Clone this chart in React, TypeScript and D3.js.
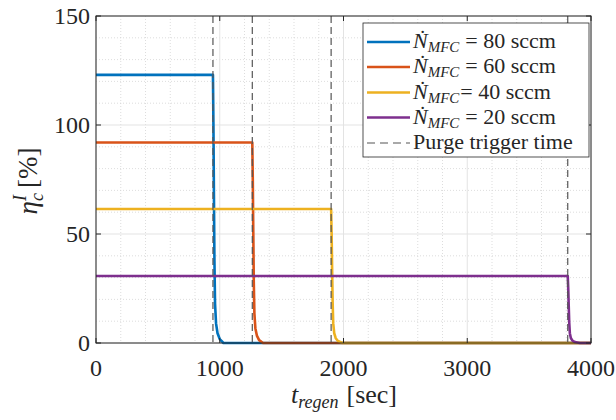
import React from 'react';
import * as d3 from 'd3';

const xTicks = [0, 1000, 2000, 3000, 4000];
const yTicks = [0, 50, 100, 150];
const xMinorTicks = [200, 400, 600, 800, 1200, 1400, 1600, 1800, 2200, 2400, 2600, 2800, 3200, 3400, 3600, 3800];
const yMinorTicks = [10, 20, 30, 40, 60, 70, 80, 90, 110, 120, 130, 140];

const seriesLabels = ['= 80 sccm', '= 60 sccm', '= 40 sccm', '= 20 sccm'];
const seriesColors = ['#0072BD', '#D95319', '#EDB120', '#7E2F8E'];
const purgeTimes = [945, 1263, 1900, 3812];

// series: time [sec], efficiency [%]
const t80 = [0, 945, 949, 953, 957, 962, 970, 982, 1000, 1030, 4000];
const v80 = [123, 123, 100, 68, 38, 18, 9, 4.5, 1.8, 0, 0];
const t60 = [0, 1263, 1267, 1271, 1275, 1280, 1288, 1300, 1318, 1350, 4000];
const v60 = [92, 92, 75, 51, 28, 13.5, 6.7, 3.4, 1.3, 0, 0];
const t40 = [0, 1900, 1904, 1908, 1912, 1917, 1925, 1937, 1955, 1990, 4000];
const v40 = [61.5, 61.5, 50, 34, 19, 9, 4.5, 2.2, 0.9, 0, 0];
const t20 = [0, 3812, 3816, 3820, 3824, 3829, 3837, 3850, 3870, 3910, 4000];
const v20 = [30.75, 30.75, 25, 17, 9.5, 4.5, 2.3, 1.1, 0.45, 0, 0];

const seriesT = [t80, t60, t40, t20];
const seriesV = [v80, v60, v40, v20];

const W = 616, H = 420;
const L = 96, R = 591, T = 16, B = 343;
const FONT = '"Liberation Serif", "Times New Roman", serif';
const AX = '#262626';

export default function App() {
  const x = d3.scaleLinear().domain([0, 4000]).range([L, R]);
  const y = d3.scaleLinear().domain([0, 150]).range([B, T]);
  const line = d3.line<[number, number]>().x(d => x(d[0])).y(d => y(d[1]));

  const legX = 363, legY = 23, legW = 226, legH = 134;
  const rowY = [42, 67, 92.5, 117.5, 143];

  return (
    <svg width={W} height={H} style={{ position: 'absolute', left: 0, top: 0, background: '#fff' }} fontFamily={FONT}>
      <rect x={0} y={0} width={W} height={H} fill="#fff" />
      {/* minor grid */}
      {xMinorTicks.map(t => (
        <line key={'xm' + t} x1={x(t)} x2={x(t)} y1={T} y2={B} stroke="#d4d4d4" strokeWidth={0.8} strokeDasharray="1,2" />
      ))}
      {yMinorTicks.map(t => (
        <line key={'ym' + t} x1={L} x2={R} y1={y(t)} y2={y(t)} stroke="#d4d4d4" strokeWidth={0.8} strokeDasharray="1,2" />
      ))}
      {/* major grid */}
      {xTicks.map(t => (
        <line key={'xg' + t} x1={x(t)} x2={x(t)} y1={T} y2={B} stroke="#e3e3e3" strokeWidth={1} />
      ))}
      {yTicks.map(t => (
        <line key={'yg' + t} x1={L} x2={R} y1={y(t)} y2={y(t)} stroke="#e3e3e3" strokeWidth={1} />
      ))}
      {/* series */}
      {seriesT.map((ts, i) => (
        <path key={'s' + i} d={line(ts.map((t, j) => [t, seriesV[i][j]] as [number, number])) || ''}
          fill="none" stroke={seriesColors[i]} strokeWidth={2.6} strokeLinejoin="round" />
      ))}
      {/* purge trigger lines */}
      {purgeTimes.map((t, i) => (
        <line key={'p' + i} x1={x(t)} x2={x(t)} y1={T} y2={B} stroke="#555" strokeWidth={1.2} strokeDasharray="7,4" />
      ))}
      {/* axes box */}
      <rect x={L} y={T} width={R - L} height={B - T} fill="none" stroke={AX} strokeWidth={1} />
      {xTicks.map(t => (
        <g key={'xt' + t}>
          <line x1={x(t)} x2={x(t)} y1={B} y2={B - 5} stroke={AX} />
          <line x1={x(t)} x2={x(t)} y1={T} y2={T + 5} stroke={AX} />
          <text x={x(t)} y={376} textAnchor="middle" fontSize={24} fill={AX}>{t}</text>
        </g>
      ))}
      {yTicks.map(t => (
        <g key={'yt' + t}>
          <line x1={L} x2={L + 5} y1={y(t)} y2={y(t)} stroke={AX} />
          <line x1={R} x2={R - 5} y1={y(t)} y2={y(t)} stroke={AX} />
          <text x={L - 6} y={y(t) + 8} textAnchor="end" fontSize={24} fill={AX}>{t}</text>
        </g>
      ))}
      {/* axis labels */}
      <text x={344} y={403} textAnchor="middle" fontSize={26} fill={AX}>
        <tspan fontStyle="italic">t</tspan>
        <tspan fontStyle="italic" fontSize={18} dy={5}>regen</tspan>
        <tspan dy={-5} dx={8}>[sec]</tspan>
      </text>
      <text transform="translate(37,181) rotate(-90)" textAnchor="middle" fontSize={27} fill={AX}>
        <tspan fontStyle="italic">η</tspan>
        <tspan fontStyle="italic" fontSize={18} dy={6}>c</tspan>
        <tspan fontStyle="italic" fontSize={18} dx={-8} dy={-17}>I</tspan>
        <tspan dy={11} dx={7}>[%]</tspan>
      </text>
      {/* legend */}
      <rect x={legX} y={legY} width={legW} height={legH} fill="#fff" stroke={AX} strokeWidth={0.8} />
      {seriesLabels.map((lab, i) => (
        <g key={'lg' + i}>
          <line x1={367} x2={410} y1={rowY[i]} y2={rowY[i]} stroke={seriesColors[i]} strokeWidth={2.6} />
          <text x={413} y={rowY[i] + 6} fontSize={22} fill={AX}>
            <tspan fontStyle="italic">Ṅ</tspan>
            <tspan fontStyle="italic" fontSize={15} dy={4}>MFC</tspan>
            <tspan dy={-4} dx={i === 2 ? 1 : 6}>{i === 2 ? lab : lab.replace('= ', '=  ')}</tspan>
          </text>
        </g>
      ))}
      <line x1={367} x2={410} y1={rowY[4]} y2={rowY[4]} stroke="#555" strokeWidth={1.2} strokeDasharray="8,5" />
      <text x={413} y={rowY[4] + 6} fontSize={22} fill={AX}>Purge trigger time</text>
    </svg>
  );
}
